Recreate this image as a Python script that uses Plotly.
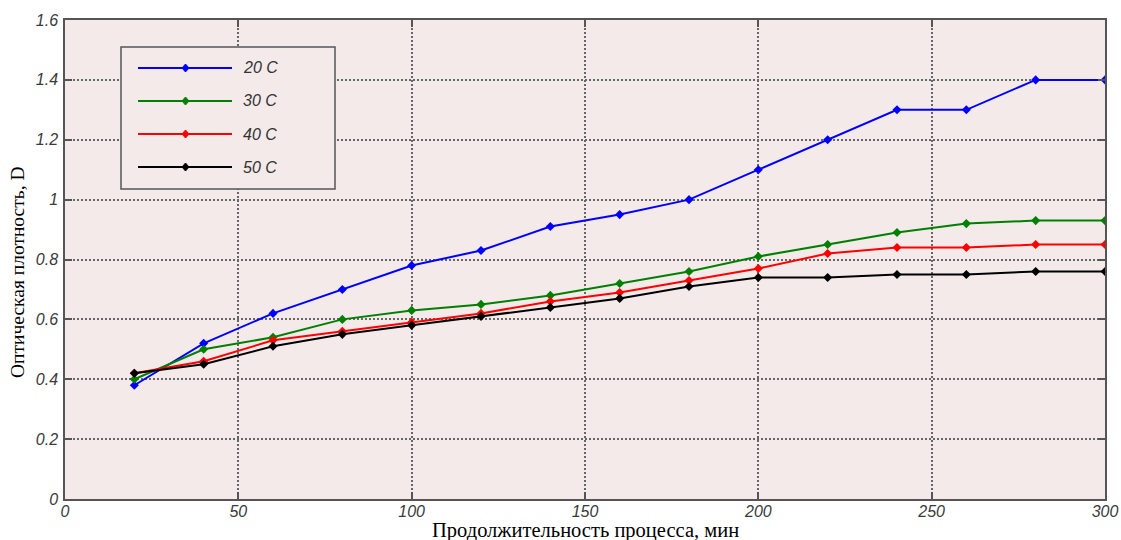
import plotly.graph_objects as go

# Время процесса, мин
time_min = [20, 40, 60, 80, 100, 120, 140, 160, 180, 200, 220, 240, 260, 280, 300]

# Оптическая плотность D при разных температурах
d_20 = [0.38, 0.52, 0.62, 0.70, 0.78, 0.83, 0.91, 0.95, 1.00, 1.10, 1.20, 1.30, 1.30, 1.40, 1.40]
d_30 = [0.40, 0.50, 0.54, 0.60, 0.63, 0.65, 0.68, 0.72, 0.76, 0.81, 0.85, 0.89, 0.92, 0.93, 0.93]
d_40 = [0.42, 0.46, 0.53, 0.56, 0.59, 0.62, 0.66, 0.69, 0.73, 0.77, 0.82, 0.84, 0.84, 0.85, 0.85]
d_50 = [0.42, 0.45, 0.51, 0.55, 0.58, 0.61, 0.64, 0.67, 0.71, 0.74, 0.74, 0.75, 0.75, 0.76, 0.76]

series_names = ["20 C", "30 C", "40 C", "50 C"]
series_values = [d_20, d_30, d_40, d_50]
series_colors = ["#0000ff", "#008000", "#ff0000", "#000000"]

x_ticks = [0, 50, 100, 150, 200, 250, 300]
y_ticks = [0, 0.2, 0.4, 0.6, 0.8, 1.0, 1.2, 1.4, 1.6]
y_tick_text = ["0", "0.2", "0.4", "0.6", "0.8", "1", "1.2", "1.4", "1.6"]

x_title = "Продолжительность процесса, мин"
y_title = "Оптическая плотность, D"

W, H = 1121, 540
M_L, M_R, M_T, M_B = 65, 16, 20, 41
PW, PH = W - M_L - M_R, H - M_T - M_B
BG = "#f3eae9"


def px_x(p):
    return (p - M_L) / PW


def px_y(p):
    return (H - M_B - p) / PH


fig = go.Figure()
for name, vals, col in zip(series_names, series_values, series_colors):
    fig.add_trace(go.Scatter(
        x=time_min, y=vals, name=name, mode="lines+markers",
        line=dict(color=col, width=2),
        marker=dict(symbol="diamond", size=7, color=col),
        showlegend=False,
    ))

tick_font = dict(family="Arial, Liberation Sans", size=16, color="#3a3a3a", style="italic")
title_font = dict(family="Liberation Serif, Times New Roman", color="#000000")
axis_common = dict(
    showline=True, linecolor="#555555", linewidth=1.5, mirror="ticks",
    ticks="inside", ticklen=7, tickcolor="#555555", tickwidth=1.5,
    showgrid=True, gridcolor="#666666", griddash="2px,2px", gridwidth=1.5,
    zeroline=False, tickfont=tick_font, automargin=False,
)

fig.update_xaxes(range=[0, 300], tickvals=x_ticks, ticklabelstandoff=-3, **axis_common)
fig.update_yaxes(range=[0, 1.6], tickvals=y_ticks, ticktext=y_tick_text,
                 ticklabelstandoff=2, **axis_common)

annotations = [
    dict(xref="paper", yref="paper", x=px_x(585), y=px_y(530),
         xanchor="center", yanchor="middle", showarrow=False,
         text=x_title, font=dict(size=20.5, **title_font)),
    dict(xref="paper", yref="paper", x=px_x(17), y=px_y(272),
         xanchor="center", yanchor="middle", showarrow=False, textangle=-90,
         text=y_title, font=dict(size=19.5, **title_font)),
]

# Легенда: рамка, отрезки линий, маркеры и подписи
shapes = [dict(
    type="rect", xref="paper", yref="paper",
    x0=px_x(121), x1=px_x(335), y0=px_y(189), y1=px_y(47),
    line=dict(color="#555555", width=1.5), fillcolor=BG, layer="above",
)]
row_y = [68, 101, 134, 167]
for name, col, ry in zip(series_names, series_colors, row_y):
    yp = px_y(ry)
    shapes.append(dict(
        type="line", xref="paper", yref="paper",
        x0=px_x(138), x1=px_x(232), y0=yp, y1=yp,
        line=dict(color=col, width=2), layer="above",
    ))
    shapes.append(dict(
        type="path", xref="paper", yref="paper",
        xsizemode="pixel", ysizemode="pixel",
        xanchor=px_x(185.5), yanchor=yp,
        path="M 0 4 L 3.5 0 L 0 -4 L -3.5 0 Z",
        fillcolor=col, line=dict(color=col, width=1), layer="above",
    ))
    annotations.append(dict(
        xref="paper", yref="paper", x=px_x(241), y=yp,
        xanchor="left", yanchor="middle", showarrow=False,
        text=name,
        font=dict(family="Arial, Liberation Sans", size=16, color="#333333", style="italic"),
    ))

fig.update_layout(
    width=W, height=H,
    margin=dict(l=M_L, r=M_R, t=M_T, b=M_B),
    paper_bgcolor="#ffffff",
    plot_bgcolor=BG,
    showlegend=False,
    shapes=shapes,
    annotations=annotations,
)

fig.write_html("out.html")
